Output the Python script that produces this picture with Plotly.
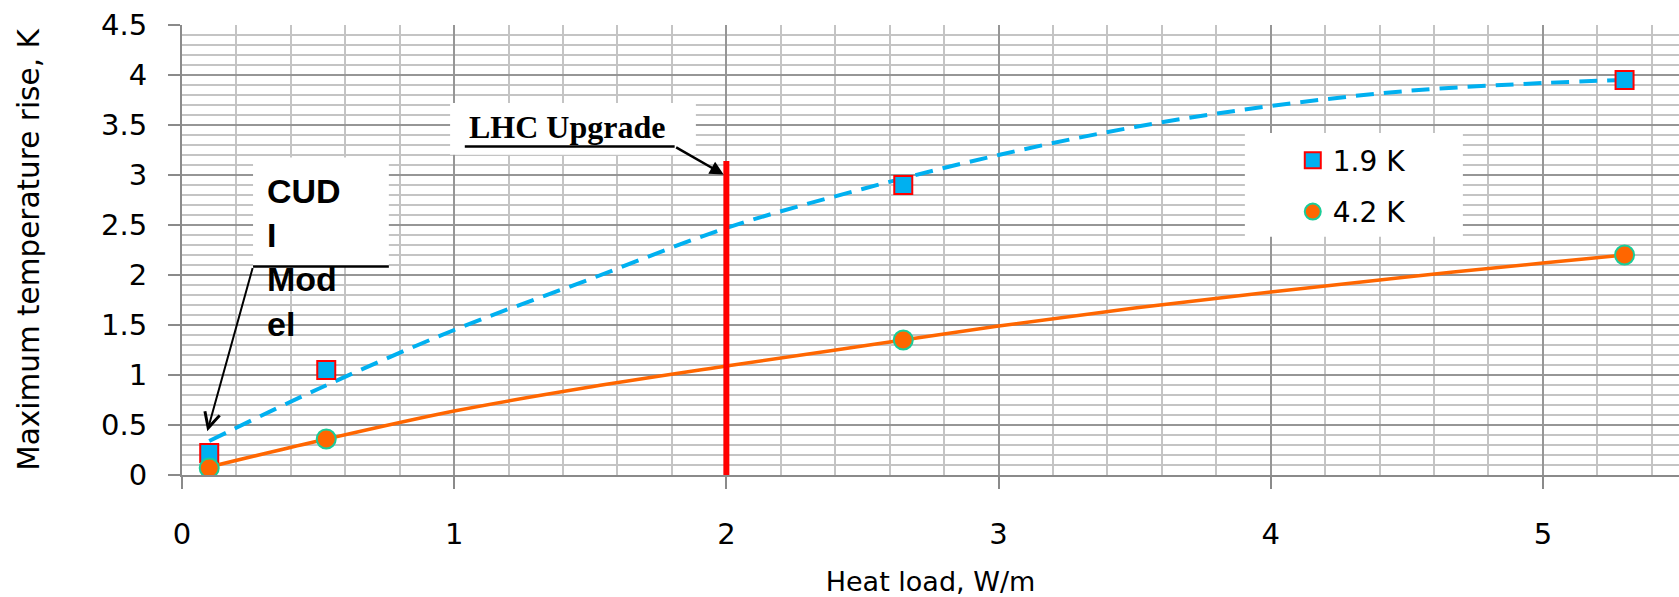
import plotly.graph_objects as go

# ---- data ----
heat_load = [0.1, 0.53, 2.65, 5.3]
rise_19K = [0.22, 1.05, 2.9, 3.95]
rise_42K = [0.07, 0.36, 1.35, 2.2]

trend_x = [0.1, 0.5, 1.0, 1.5, 2.0, 2.5, 3.0, 3.5, 4.0, 4.5, 5.0, 5.3]
trend_19K = [0.34, 0.86, 1.45, 1.96, 2.47, 2.86, 3.2, 3.48, 3.69, 3.84, 3.92, 3.95]
trend_42K = [0.08, 0.34, 0.64, 0.88, 1.09, 1.29, 1.49, 1.67, 1.83, 1.98, 2.12, 2.2]

upgrade_x = [2.0, 2.0]
upgrade_y = [0.0, 3.14]

series_names = ["1.9 K", "4.2 K"]
x_title = "Heat load, W/m"
y_title = "Maximum temperature rise, K"
cudi_label = "CUD<br>I<br>Mod<br>el"
lhc_label = "LHC Upgrade"

BLUE = "#00B0F0"
ORANGE = "#FF6600"
TEAL = "#1ACC99"
RED = "#FF0000"

fig = go.Figure()

fig.add_trace(go.Scatter(x=trend_x, y=trend_19K, mode="lines", line=dict(color=BLUE, width=4, dash="18px,10px", shape="spline"),
                         showlegend=False, hoverinfo="skip"))
fig.add_trace(go.Scatter(x=trend_x, y=trend_42K, mode="lines", line=dict(color=ORANGE, width=3.5, shape="spline"),
                         showlegend=False, hoverinfo="skip"))
fig.add_trace(go.Scatter(x=upgrade_x, y=upgrade_y, mode="lines", line=dict(color=RED, width=6),
                         showlegend=False, hoverinfo="skip"))
fig.add_trace(go.Scatter(x=heat_load, y=rise_19K, mode="markers", name=series_names[0], legendgroup="a",
                         marker=dict(symbol="square", size=18, color=BLUE, line=dict(color=RED, width=2))))
fig.add_trace(go.Scatter(x=heat_load, y=rise_42K, mode="markers", name=series_names[1], legendgroup="b",
                         marker=dict(symbol="circle", size=19, color=ORANGE, line=dict(color=TEAL, width=2))))

shapes = [
    # white boxes
    dict(type="rect", xref="x", yref="y", x0=0.261, x1=0.760, y0=2.085, y1=3.175, fillcolor="white", line=dict(width=0), layer="between"),
    dict(type="rect", xref="x", yref="y", x0=0.985, x1=1.888, y0=3.202, y1=3.721, fillcolor="white", line=dict(width=0), layer="between"),
    dict(type="rect", xref="x", yref="y", x0=3.905, x1=4.706, y0=2.383, y1=3.421, fillcolor="white", line=dict(width=0), layer="between"),
    # underlines
    dict(type="line", xref="x", yref="y", x0=0.261, x1=0.760, y0=2.085, y1=2.085, line=dict(color="black", width=2.5)),
    dict(type="line", xref="x", yref="y", x0=1.039, x1=1.81, y0=3.285, y1=3.285, line=dict(color="black", width=2.5)),
]

annotations = [
    dict(x=1.415, y=3.485, xref="x", yref="y", text="<b>" + lhc_label + "</b>", showarrow=False,
         font=dict(family="Liberation Serif", size=32, color="black")),
    dict(x=1.99, y=3.005, xref="x", yref="y", ax=1.81, ay=3.285, axref="x", ayref="y", text="",
         showarrow=True, arrowhead=2, arrowsize=1.1, arrowwidth=2.5, arrowcolor="black", standoff=0, startstandoff=0),
    dict(x=0.305, y=2.18, xref="x", yref="y", text="<b>" + cudi_label + "</b>", showarrow=False,
         xanchor="left", yanchor="middle", align="left",
         font=dict(family="Liberation Sans", size=34, color="black")),
    dict(x=0.093, y=0.438, xref="x", yref="y", ax=0.261, ay=2.085, axref="x", ayref="y", text="",
         showarrow=True, arrowhead=5, arrowsize=1.5, arrowwidth=2, arrowcolor="black", standoff=0, startstandoff=0),
]

tickfont = dict(family="DejaVu Sans", size=29, color="black")

fig.update_layout(
    width=1679, height=597,
    margin=dict(l=182, r=0, t=25, b=121.5, autoexpand=False),
    paper_bgcolor="white", plot_bgcolor="white",
    shapes=shapes, annotations=annotations,
    showlegend=True,
    legend=dict(x=0.742, y=0.7545, xanchor="left", yanchor="top", bgcolor="rgba(0,0,0,0)",
                font=dict(family="DejaVu Sans", size=28, color="black"), tracegroupgap=12,
                traceorder="grouped"),
    xaxis=dict(range=[0, 5.5], dtick=1, tick0=0, showgrid=True, gridcolor="#969696", gridwidth=2,
               minor=dict(dtick=0.2, showgrid=True, gridcolor="#C4C4C4", gridwidth=2),
               showline=True, linecolor="#8A8A8A", linewidth=2, zeroline=False,
               ticks="outside", ticklen=12, tickwidth=2, tickcolor="#8A8A8A",
               tickfont=tickfont, ticklabelstandoff=20,
               title=dict(text=x_title, font=dict(family="DejaVu Sans", size=27, color="black"), standoff=25)),
    yaxis=dict(range=[0, 4.5], dtick=0.5, tick0=0, showgrid=True, gridcolor="#969696", gridwidth=2,
               minor=dict(dtick=0.1, showgrid=True, gridcolor="#C4C4C4", gridwidth=1.5),
               showline=True, linecolor="#8A8A8A", linewidth=2, zeroline=False,
               ticks="outside", ticklen=12, tickwidth=2, tickcolor="#8A8A8A",
               tickfont=tickfont, ticklabelstandoff=15,
               title=dict(text=y_title, font=dict(family="DejaVu Sans", size=29.5, color="black"), standoff=53)),
)

fig.write_html("out.html")
